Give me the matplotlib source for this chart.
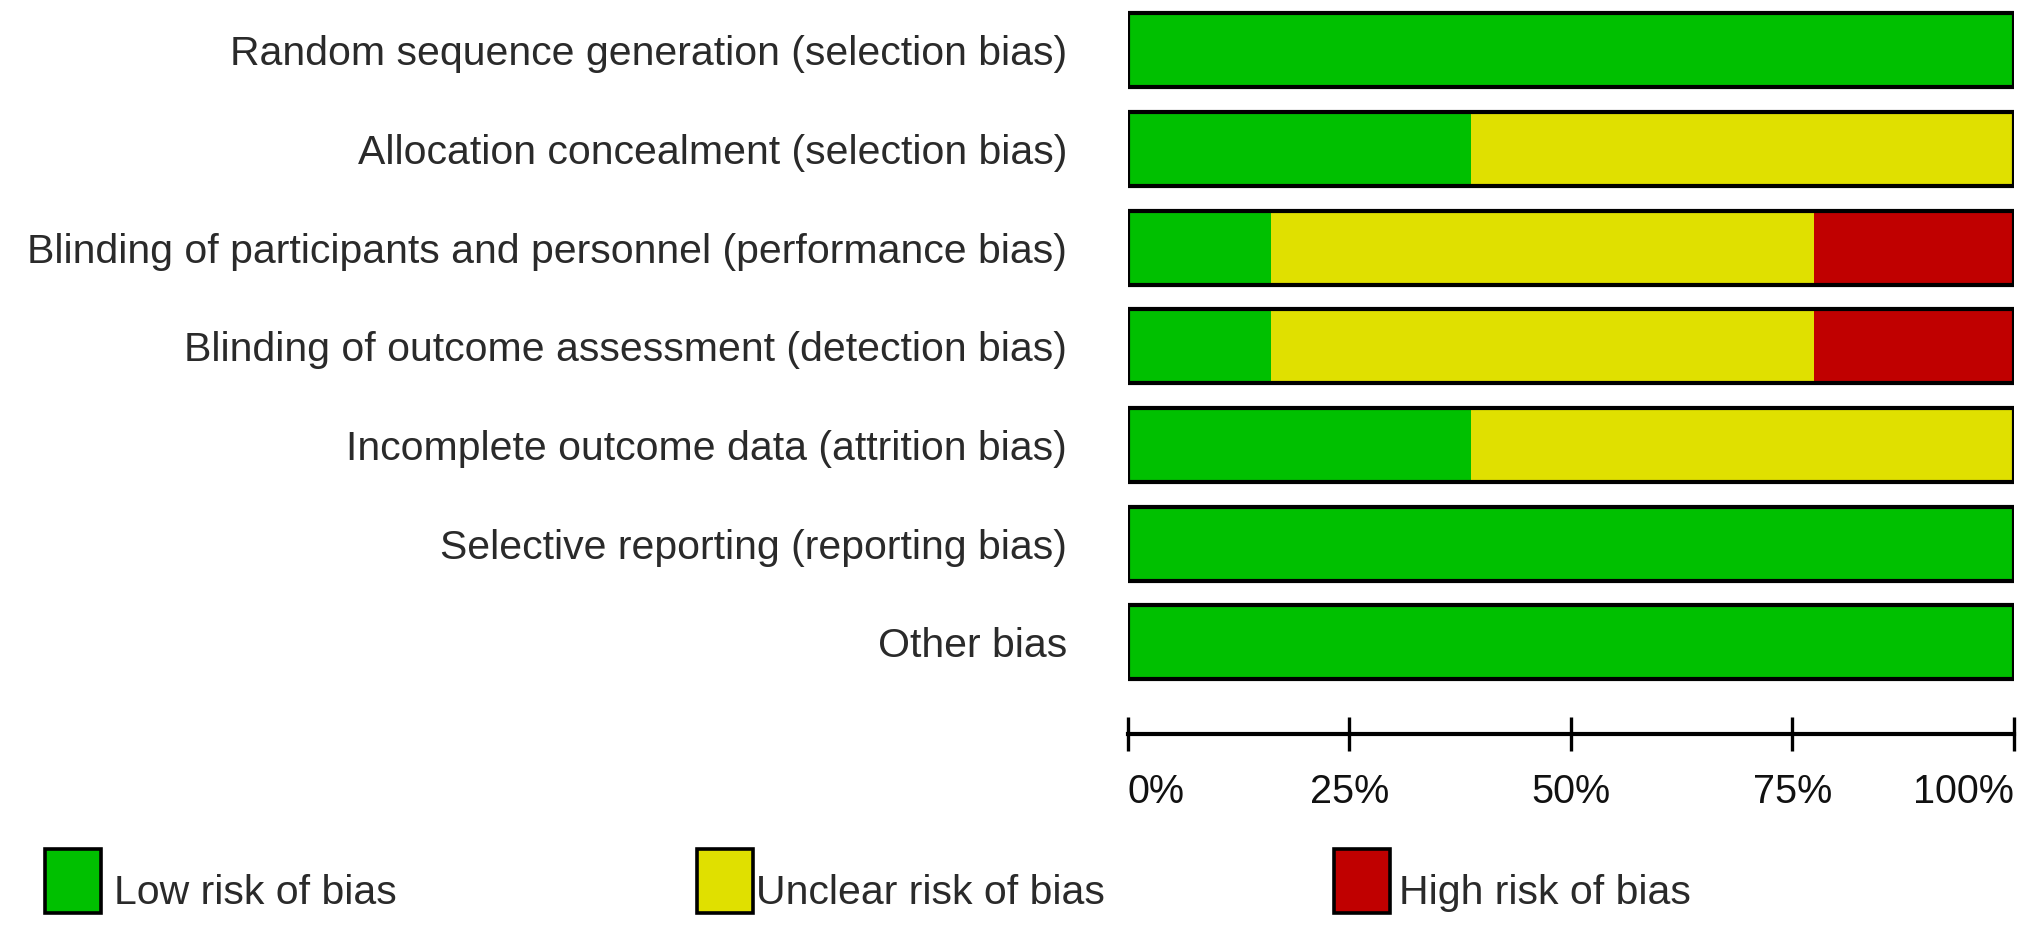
import matplotlib.pyplot as plt
from matplotlib.patches import Rectangle

plt.rcParams['font.family'] = ['Liberation Sans', 'DejaVu Sans']

domains = [
    "Random sequence generation (selection bias)",
    "Allocation concealment (selection bias)",
    "Blinding of participants and personnel (performance bias)",
    "Blinding of outcome assessment (detection bias)",
    "Incomplete outcome data (attrition bias)",
    "Selective reporting (reporting bias)",
    "Other bias",
]
# percent of studies per judgement
low = [100.0, 38.7, 16.1, 16.1, 38.7, 100.0, 100.0]
unclear = [0.0, 61.3, 61.3, 61.3, 61.3, 0.0, 0.0]
high = [0.0, 0.0, 22.6, 22.6, 0.0, 0.0, 0.0]

categories = ["Low risk of bias", "Unclear risk of bias", "High risk of bias"]
colors = ["#00c000", "#e0e000", "#c00000"]
tick_vals = [0, 25, 50, 75, 100]
tick_labels = ["0%", "25%", "50%", "75%", "100%"]

W, H = 2031, 927
fig = plt.figure(figsize=(W / 100, H / 100), dpi=100)

# axes in pixel coords: left 1128, right 2014, top 1, bottom 734 (axis line)
ax = fig.add_axes([1128 / W, 1 - 734 / H, (2014 - 1128) / W, (734 - 1) / H])
ax.set_xlim(0, 100)
ax.set_ylim(6.93, -0.5)

y = list(range(len(domains)))
left_h = [l + u for l, u in zip(low, unclear)]
ax.barh(y, low, height=0.75, color=colors[0], edgecolor="none")
ax.barh(y, unclear, left=low, height=0.75, color=colors[1], edgecolor="none")
ax.barh(y, high, left=left_h, height=0.75, color=colors[2], edgecolor="none")
# black outline around each full bar
ax.barh(y, [100] * len(y), height=0.75, color="none", edgecolor="black", linewidth=3.0)

for s in ["top", "right", "left"]:
    ax.spines[s].set_visible(False)
ax.spines["bottom"].set_linewidth(3.0)
ax.set_yticks(y)
ax.set_yticklabels(domains, fontsize=29.5, color="#2a2a2a")
ax.tick_params(axis="y", length=0, pad=44)
ax.set_xticks(tick_vals)
ax.set_xticklabels(tick_labels, fontsize=28.5, color="#111111")
ax.tick_params(axis="x", direction="inout", length=24, width=2.4, pad=16)
for lab, ha in zip(ax.get_xticklabels(), ["left", "center", "center", "center", "right"]):
    lab.set_ha(ha)

# legend row
sq_x = [45, 697, 1334]
txt_x = [114, 756, 1399]
for cx, tx, c, lab in zip(sq_x, txt_x, colors, categories):
    fig.patches.append(Rectangle((cx / W, 1 - 913 / H), 56 / W, 64 / H,
                                 transform=fig.transFigure, facecolor=c,
                                 edgecolor="black", linewidth=2.6))
    fig.text(tx / W, 1 - 893 / H, lab, fontsize=29.5, va="center", ha="left", color="#2a2a2a")

fig.savefig("out.png", dpi=100, facecolor="white")
